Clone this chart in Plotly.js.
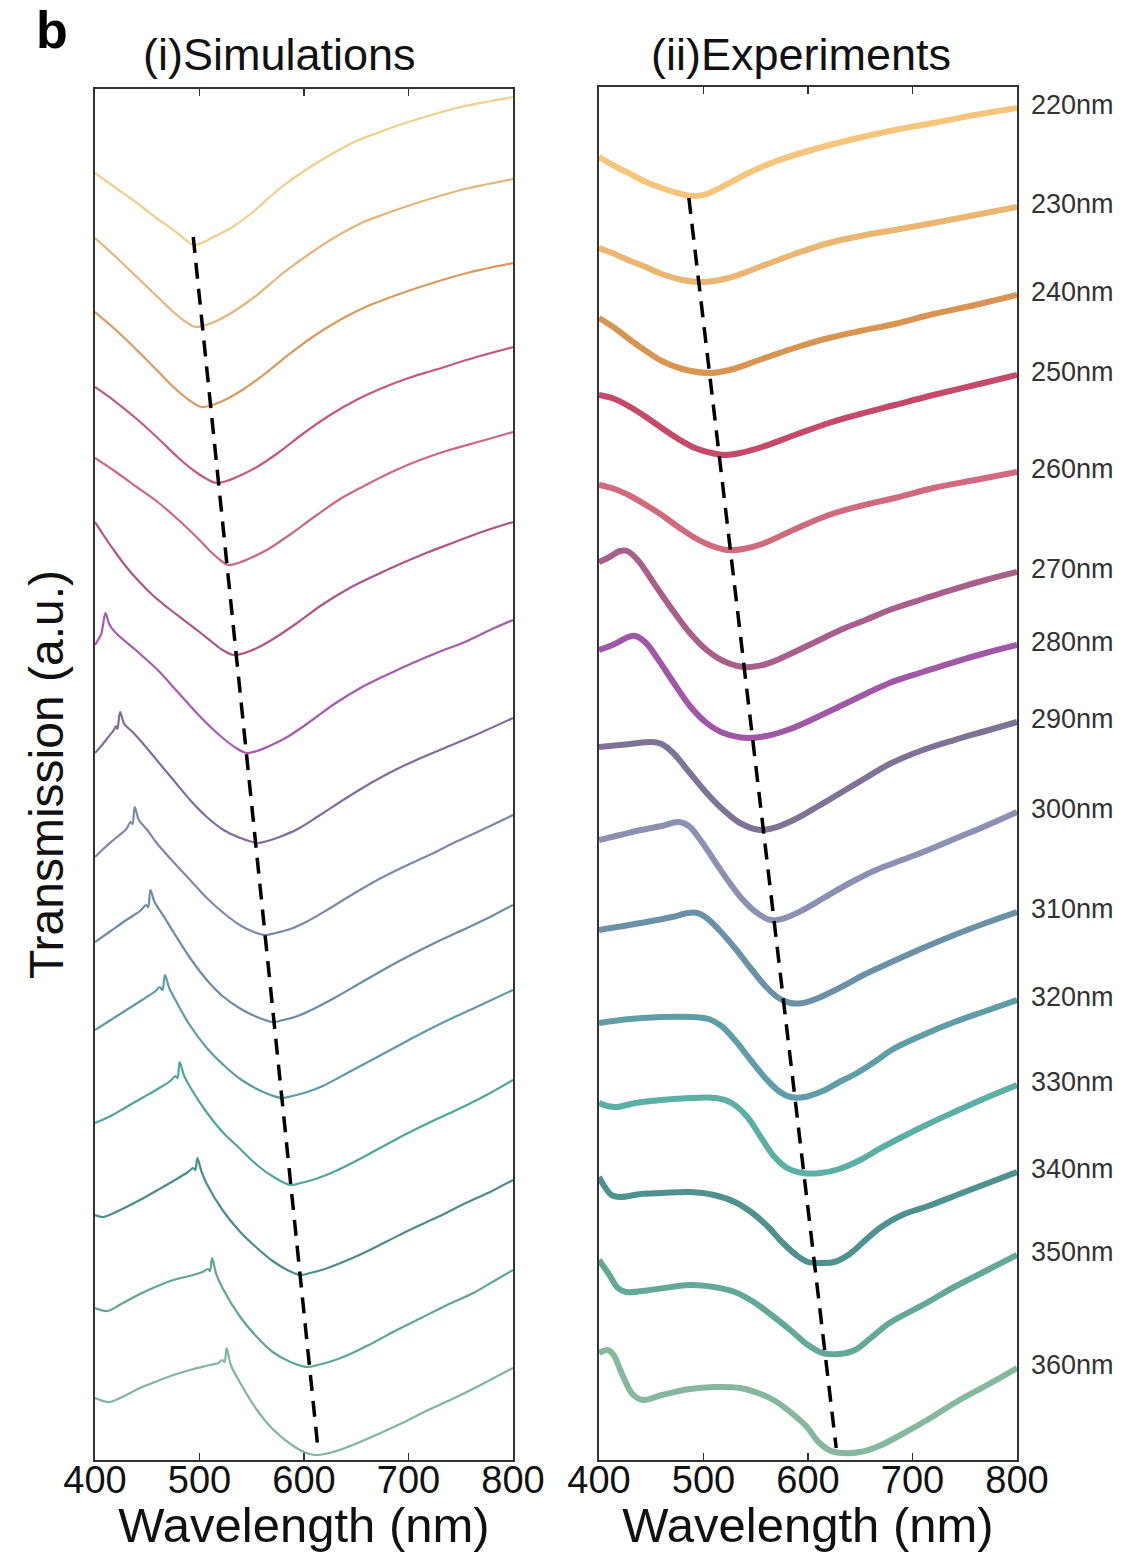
<!DOCTYPE html>
<html>
<head>
<meta charset="utf-8">
<script src="https://cdn.plot.ly/plotly-3.0.1.min.js"></script>
<style>html,body{margin:0;padding:0;background:#fff}#chart{width:1132px;height:1552px}</style>
</head>
<body>
<div id="chart"></div>
<script>
// Period / thickness labels (one curve per label)
const thickLabels = ['220nm','230nm','240nm','250nm','260nm','270nm','280nm','290nm','300nm','310nm','320nm','330nm','340nm','350nm','360nm'];

const simColors = ['#F0CF8C','#E4B67C','#D99B5E','#C45A7C','#CB6882','#AE5787','#A65BAE','#806D9B','#7F88A8','#6D8CA6','#5E9BA6','#50A49C','#4B8D8C','#60A596','#80B69B'];
const expColors = ['#F5C57B','#EAB672','#D89552','#C4496B','#D06A7E','#A8608A','#A058A6','#7E7395','#8C91B2','#6B91A7','#5F9EA6','#5BAFA4','#4F918E','#63A898','#86B89F'];

// (i) Simulations: wavelength (nm) and offset transmission (a.u.)
const simWl = [
  [400,420,440,460,475,487,494,502,515,530,550,575,600,625,650,675,700,750,800],
  [400,420,440,460,475,487,496,506,520,535,555,580,605,630,655,680,705,750,800],
  [400,420,440,460,475,490,502,512,526,541,561,586,611,636,661,686,711,756,800],
  [400,420,440,460,480,495,507,516,526,540,555,575,600,625,650,675,700,725,765,800],
  [400,420,440,460,480,500,512,521,527,537,551,566,586,611,636,661,686,711,736,770,800],
  [400,410,420,430,440,455,470,485,500,512,522,533,543,557,572,592,617,642,667,692,717,742,770,800],
  [400,404,406,407.5,410,414,420,440,460,480,500,520,535,545,555,569,584,604,629,654,679,704,729,754,780,800],
  [400,406,412,418,420,421.5,424,428,435,443,459,475,491,507,523,539,555,565,579,594,614,639,664,689,714,739,764,800],
  [400,410,420,430,434,436,438,442,450,459,475,491,507,523,540,552,563,573,587,602,622,647,672,697,722,747,772,800],
  [400,415,430,443,449,451,453,457,465,475,491,507,522,538,555,570,580,594,609,629,654,679,704,729,754,778,800],
  [400,415,430,445,458,462,464.5,467,471,478,490,507,523,539,555,568,579,589,603,618,638,663,688,713,738,763,800],
  [400,415,430,445,460,472,477,479,481,485,491,506,522,538,555,571,587,597,611,626,646,671,696,721,746,771,800],
  [400,408,420,443,460,475,489,494,496,498,502,507,522,539,555,570,584,596,606,620,635,655,680,705,730,755,780,800],
  [400,412,425,443,460,475,490,503,508,510,512,516,522,539,555,570,587,603,613,627,642,662,687,712,737,762,782,800],
  [400,414,428,443,460,475,491,506,518,522,524,526,530,539,555,570,587,600,610,620,634,649,669,694,719,744,769,800]
];
const simT = [
  [12.87,12.72,12.57,12.41,12.30,12.20,12.15,12.17,12.24,12.32,12.47,12.70,12.89,13.05,13.19,13.29,13.38,13.53,13.63],
  [12.22,12.03,11.83,11.63,11.48,11.38,11.33,11.35,11.41,11.50,11.65,11.87,12.06,12.23,12.37,12.47,12.56,12.70,12.81],
  [11.48,11.30,11.10,10.89,10.73,10.60,10.53,10.55,10.61,10.70,10.85,11.06,11.25,11.41,11.54,11.64,11.73,11.87,11.97],
  [10.73,10.58,10.41,10.22,10.02,9.89,9.81,9.77,9.79,9.85,9.93,10.07,10.27,10.45,10.60,10.72,10.82,10.90,11.03,11.13],
  [10.02,9.88,9.73,9.58,9.40,9.20,9.07,8.99,8.95,8.97,9.03,9.11,9.25,9.44,9.62,9.76,9.89,10.00,10.09,10.19,10.28],
  [9.38,9.22,9.07,8.93,8.81,8.65,8.52,8.40,8.28,8.18,8.10,8.05,8.07,8.13,8.22,8.36,8.55,8.71,8.84,8.96,9.07,9.17,9.28,9.38],
  [8.15,8.22,8.26,8.34,8.47,8.35,8.27,8.09,7.90,7.67,7.44,7.24,7.12,7.07,7.09,7.15,7.23,7.37,7.56,7.72,7.85,7.97,8.08,8.18,8.31,8.40],
  [7.07,7.14,7.22,7.30,7.34,7.31,7.48,7.36,7.29,7.20,7.00,6.80,6.60,6.43,6.30,6.22,6.17,6.19,6.24,6.31,6.44,6.61,6.77,6.91,7.03,7.14,7.25,7.42],
  [6.03,6.13,6.22,6.31,6.38,6.36,6.53,6.40,6.30,6.17,5.98,5.80,5.62,5.47,5.34,5.28,5.25,5.27,5.31,5.38,5.50,5.66,5.81,5.94,6.06,6.19,6.31,6.45],
  [5.18,5.29,5.40,5.49,5.55,5.53,5.70,5.58,5.45,5.28,5.02,4.80,4.64,4.52,4.43,4.38,4.40,4.44,4.51,4.62,4.77,4.92,5.06,5.19,5.31,5.43,5.55],
  [4.30,4.40,4.50,4.60,4.69,4.73,4.70,4.85,4.72,4.58,4.36,4.12,3.95,3.81,3.71,3.65,3.62,3.64,3.68,3.74,3.85,3.99,4.13,4.27,4.40,4.52,4.70],
  [3.37,3.44,3.53,3.62,3.71,3.79,3.84,3.82,3.98,3.85,3.73,3.49,3.28,3.12,2.95,2.83,2.75,2.77,2.81,2.87,2.97,3.11,3.25,3.38,3.50,3.63,3.80],
  [2.45,2.43,2.48,2.60,2.70,2.79,2.88,2.92,2.90,3.02,2.88,2.76,2.50,2.28,2.12,1.99,1.90,1.85,1.87,1.91,1.97,2.06,2.19,2.32,2.44,2.57,2.69,2.80],
  [1.52,1.49,1.56,1.66,1.74,1.80,1.84,1.88,1.91,1.89,2.02,1.86,1.72,1.43,1.23,1.08,0.98,0.93,0.95,0.99,1.05,1.15,1.29,1.42,1.55,1.67,1.79,1.90],
  [0.62,0.58,0.64,0.72,0.79,0.85,0.90,0.94,0.97,1.00,0.98,1.12,0.95,0.77,0.50,0.31,0.16,0.08,0.05,0.06,0.10,0.16,0.25,0.37,0.50,0.62,0.75,0.92]
];

// (ii) Experiments
const expWl = [
  [400,415,430,445,460,475,489,503,523,545,570,600,640,683,720,760,800],
  [400,415,430,445,460,480,495,510,530,556,590,620,650,683,720,760,800],
  [400,415,430,445,460,480,504,525,556,590,620,650,683,720,760,800],
  [400,415,430,445,460,476,492,508,520,535,556,590,620,650,683,720,760,800],
  [400,415,430,445,460,476,492,508,523,538,556,590,620,650,683,720,760,800],
  [400,410,420,427,437,455,471,487,503,519,538,560,583,607,631,655,678,710,740,770,800],
  [400,415,428,435,445,455,471,487,503,519,542,560,583,607,631,655,678,710,740,770,800],
  [400,430,450,460,471,487,503,519,535,554,570,590,610,631,655,678,710,740,770,800],
  [400,420,440,460,476,486,497,510,523,537,550,564,578,595,615,640,665,690,715,740,770,800],
  [400,440,470,485,494,503,515,530,545,560,572,583,595,610,630,655,680,710,740,770,800],
  [400,430,460,490,505,517,530,545,560,572,583,597,614,630,647,665,680,710,740,770,800],
  [400,408,417,435,460,490,512,527,542,556,568,580,595,612,630,650,670,690,715,740,770,800],
  [400,405,412,420,440,460,487,510,530,548,562,576,590,600,612,625,640,655,670,690,715,740,770,800],
  [400,410,418,426,449,487,510,530,548,565,583,600,614,630,645,660,678,710,740,770,800],
  [400,408,414,422,432,442,460,487,510,535,552,567,583,599,610,622,633,650,668,685,714,745,775,800]
];
const expT = [
  [13.03,12.94,12.86,12.78,12.72,12.67,12.64,12.66,12.76,12.88,12.99,13.09,13.20,13.30,13.37,13.45,13.52],
  [12.12,12.06,11.99,11.93,11.86,11.80,11.78,11.79,11.84,11.94,12.07,12.17,12.24,12.30,12.37,12.45,12.53],
  [11.42,11.32,11.20,11.09,10.99,10.91,10.87,10.90,11.01,11.13,11.22,11.29,11.36,11.46,11.55,11.65],
  [10.65,10.61,10.53,10.43,10.32,10.21,10.12,10.07,10.05,10.07,10.13,10.26,10.37,10.46,10.55,10.65,10.75,10.85],
  [9.75,9.71,9.64,9.55,9.45,9.33,9.22,9.14,9.10,9.11,9.16,9.32,9.45,9.54,9.62,9.72,9.80,9.88],
  [8.98,9.03,9.09,9.09,9.00,8.73,8.49,8.27,8.10,7.99,7.93,7.96,8.06,8.18,8.30,8.40,8.50,8.61,8.71,8.80,8.88],
  [8.10,8.16,8.23,8.24,8.17,8.03,7.78,7.54,7.37,7.27,7.22,7.24,7.31,7.42,7.54,7.66,7.77,7.88,7.98,8.07,8.15],
  [7.13,7.16,7.18,7.16,7.07,6.87,6.67,6.50,6.37,6.30,6.33,6.42,6.54,6.67,6.82,6.96,7.10,7.20,7.29,7.38],
  [6.20,6.25,6.30,6.34,6.38,6.34,6.20,6.00,5.80,5.61,5.48,5.40,5.42,5.50,5.62,5.77,5.90,6.00,6.10,6.21,6.34,6.48],
  [5.30,5.37,5.43,5.47,5.47,5.42,5.30,5.12,4.92,4.73,4.62,4.57,4.57,4.62,4.72,4.86,4.98,5.12,5.25,5.37,5.48],
  [4.37,4.41,4.43,4.43,4.41,4.34,4.20,4.00,3.81,3.69,3.63,3.63,3.69,3.78,3.87,3.99,4.10,4.25,4.38,4.49,4.60],
  [3.57,3.54,3.53,3.57,3.60,3.62,3.62,3.57,3.43,3.21,3.03,2.92,2.87,2.87,2.91,3.00,3.12,3.23,3.36,3.48,3.62,3.75],
  [2.83,2.74,2.65,2.63,2.66,2.67,2.68,2.65,2.58,2.46,2.33,2.17,2.04,1.98,1.97,1.98,2.06,2.20,2.33,2.45,2.54,2.64,2.76,2.88],
  [2.00,1.85,1.72,1.68,1.70,1.75,1.73,1.68,1.58,1.45,1.30,1.15,1.07,1.06,1.10,1.22,1.37,1.55,1.73,1.89,2.05],
  [1.07,1.10,1.05,0.86,0.66,0.60,0.65,0.71,0.73,0.72,0.67,0.60,0.48,0.33,0.18,0.09,0.07,0.08,0.14,0.23,0.40,0.60,0.77,0.92]
];

// Dashed guide lines through the transmission dips
const simDipWl = [494, 613];
const simDipT = [12.23, 0.15];
const expDipWl = [486, 627];
const expDipT = [12.62, 0.12];

const xTicks = [400, 500, 600, 700, 800];

const FONT = 'Liberation Sans, Arial, Helvetica, sans-serif';
const traces = [];
for (let i = 0; i < thickLabels.length; i++) {
  traces.push({
    x: simWl[i], y: simT[i], xaxis: 'x', yaxis: 'y', mode: 'lines', name: thickLabels[i],
    line: {color: simColors[i], width: 2.2, shape: 'spline', smoothing: 0.9},
    hoverinfo: 'skip'
  });
}
for (let i = 0; i < thickLabels.length; i++) {
  traces.push({
    x: expWl[i], y: expT[i], xaxis: 'x2', yaxis: 'y2', mode: 'lines', name: thickLabels[i],
    line: {color: expColors[i], width: 6, shape: 'spline', smoothing: 1},
    hoverinfo: 'skip'
  });
}
traces.push({x: simDipWl, y: simDipT, xaxis: 'x', yaxis: 'y', mode: 'lines',
  line: {color: '#000', width: 3.5, dash: '16px,10px'}, hoverinfo: 'skip'});
traces.push({x: expDipWl, y: expDipT, xaxis: 'x2', yaxis: 'y2', mode: 'lines',
  line: {color: '#000', width: 3.5, dash: '16px,10px'}, hoverinfo: 'skip'});

const xCommon = {
  range: [400, 800], tickvals: xTicks, ticktext: xTicks.map(String),
  ticks: 'inside', ticklen: 7, tickwidth: 1.6, tickcolor: '#333',
  showline: true, linecolor: '#333', linewidth: 1.6, mirror: 'ticks',
  showgrid: false, zeroline: false, ticklabelstandoff: -14,
  tickfont: {family: FONT, size: 38, color: '#111'},
  title: {text: 'Wavelength (nm)', font: {family: FONT, size: 49, color: '#111'}, standoff: 14}
};
const yCommon = {
  showticklabels: false, ticks: '', showline: true, linecolor: '#333', linewidth: 1.6,
  mirror: true, showgrid: false, zeroline: false
};

const annotations = [
  {text: '<b>b</b>', xref: 'paper', yref: 'paper', x: 0.046, y: 1, xanchor: 'center', yanchor: 'top',
   borderpad: 0, showarrow: false, font: {family: FONT, size: 52, color: '#000'}},
  {text: '(i)Simulations', xref: 'paper', yref: 'paper', x: 0.2473, y: 0.9646, xanchor: 'center', yanchor: 'middle',
   showarrow: false, font: {family: FONT, size: 45, color: '#111'}},
  {text: '(ii)Experiments', xref: 'paper', yref: 'paper', x: 0.7076, y: 0.9646, xanchor: 'center', yanchor: 'middle',
   showarrow: false, font: {family: FONT, size: 45, color: '#111'}}
];
for (let i = 0; i < thickLabels.length; i++) {
  const t = expT[i];
  annotations.push({
    text: thickLabels[i], xref: 'paper', yref: 'y2', x: 0.9090, y: t[t.length - 1],
    xanchor: 'left', yanchor: 'middle', yshift: 3, showarrow: false,
    font: {family: FONT, size: 27, color: '#333'}
  });
}

const layout = {
  width: 1132, height: 1552,
  margin: {l: 0, r: 0, t: 0, b: 0},
  paper_bgcolor: '#fff', plot_bgcolor: '#fff',
  showlegend: false,
  font: {family: FONT, color: '#111'},
  xaxis: Object.assign({}, xCommon, {domain: [0.08392, 0.45318], anchor: 'y'}),
  xaxis2: Object.assign({}, xCommon, {domain: [0.52915, 0.89841], anchor: 'y2'}),
  yaxis: Object.assign({}, yCommon, {domain: [0.05928, 0.94265], range: [0, 13.71], anchor: 'x',
    title: {text: 'Transmission (a.u.)', font: {family: FONT, size: 48, color: '#111'}, standoff: 14}}),
  yaxis2: Object.assign({}, yCommon, {domain: [0.05928, 0.94394], range: [0, 13.73], anchor: 'x2'}),
  annotations: annotations
};

Plotly.newPlot('chart', traces, layout, {displayModeBar: false, staticPlot: true});
</script>
</body>
</html>
